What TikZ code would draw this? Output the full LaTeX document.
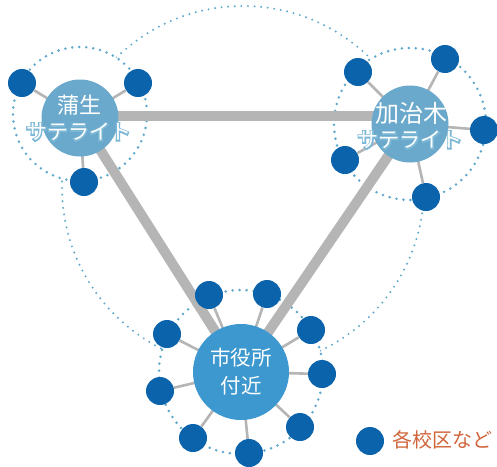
\documentclass[tikz,border=0pt]{standalone}
\usepackage{fontspec}
\newfontfamily\cjk{Noto Sans CJK JP}[Scale=1]
\newfontfamily\cjkhalo{Noto Sans CJK JP}[FakeBold=12]
\definecolor{schooldot}{HTML}{0A63AB}
\definecolor{satfill}{HTML}{6AA9CB}
\definecolor{cityfill}{HTML}{3C98CF}
\definecolor{linkgray}{HTML}{B5B5B5}
\definecolor{dotblue}{HTML}{5FA8CC}
\definecolor{labelorange}{HTML}{D0653C}
\definecolor{halo}{HTML}{7DB8D6}
\newcommand{\halotext}[1]{\leavevmode\rlap{\textcolor{halo}{\cjkhalo #1}}\textcolor{white}{#1}}
\tikzset{
  x=1pt,y=-1pt,
  school/.style={circle,fill=schooldot,minimum size=28pt,inner sep=0pt},
  hub/.style={circle,fill=satfill,minimum size=77pt,inner sep=0pt,text=white,font=\cjk\fontsize{21}{27}\selectfont,align=center},
  cityhub/.style={hub,fill=cityfill,minimum size=96pt,font=\cjk\fontsize{20.5}{28}\selectfont},
  trunk/.style={draw=linkgray,line width=10pt},
  spoke/.style={draw=linkgray,line width=2.6pt},
  dotring/.style={draw=dotblue,line width=2.8pt,line cap=round,dash pattern=on 0pt off 7pt,fill=white},
  bigring/.style={draw=dotblue,line width=2.2pt,line cap=round,dash pattern=on 0pt off 6.6pt},
}
\begin{document}
\begin{tikzpicture}
\useasboundingbox (0,0) rectangle (497,466);
\coordinate (ca) at (80,118);
\coordinate (cb) at (410,124);
\coordinate (cc) at (241,372);
\coordinate (ta) at (80,116);
\coordinate (tb) at (410,116);
\coordinate (big) at (243,187);
\draw[bigring] (big) circle[radius=181];
\draw[dotring] (80,114) circle[radius=67];
\draw[dotring] (410,124) circle[radius=76];
\draw[dotring] (241,372) circle[radius=82];
\draw[trunk] (ta) -- (tb);
\draw[trunk] (ca) -- (cc);
\draw[trunk] (cb) -- (cc);
\foreach \n/\x/\y in {a1/22/83,a2/138/83,a3/84/182,
  b1/358/72,b2/445/59,b3/484/130,b4/426/197,b5/345/160,
  c1/209/295,c2/267/294,c3/311/330,c4/322/374,c5/300/427,c6/249/453,c7/193/438,c8/160/391,c9/167/334}{
  \node[school] (\n) at (\x,\y) {};
}
\foreach \n in {a1,a2,a3}{\draw[spoke] (ca) -- (\n);}
\foreach \n in {b1,b2,b3,b4,b5}{\draw[spoke] (cb) -- (\n);}
\foreach \n in {c1,c2,c3,c4,c5,c6,c7,c8,c9}{\draw[spoke] (cc) -- (\n);}
\node[hub] (gamo) at (ca) {};
\node[hub] (kajiki) at (cb) {};
\node[cityhub] (city) at (cc) {市役所\\付近};
\node[font=\cjk\fontsize{22}{22}\selectfont,text=white,inner sep=0pt] (gamot) at (79,105) {蒲生};
\node[font=\cjk\fontsize{21}{21}\selectfont,inner sep=0pt] (gamos) at (78.5,132) {\halotext{サテライト}};
\node[font=\cjk\fontsize{24}{24}\selectfont,text=white,inner sep=0pt] (kajikit) at (411,113) {加治木};
\node[font=\cjk\fontsize{21}{21}\selectfont,inner sep=0pt] (kajikis) at (410,140) {\halotext{サテライト}};
\node[school] (legend) at (370,441) {};
\node[anchor=west,font=\cjk\fontsize{20}{21}\selectfont,text=labelorange,inner sep=0pt] (legendt) at (392,440) {各校区など};
\end{tikzpicture}
\end{document}
